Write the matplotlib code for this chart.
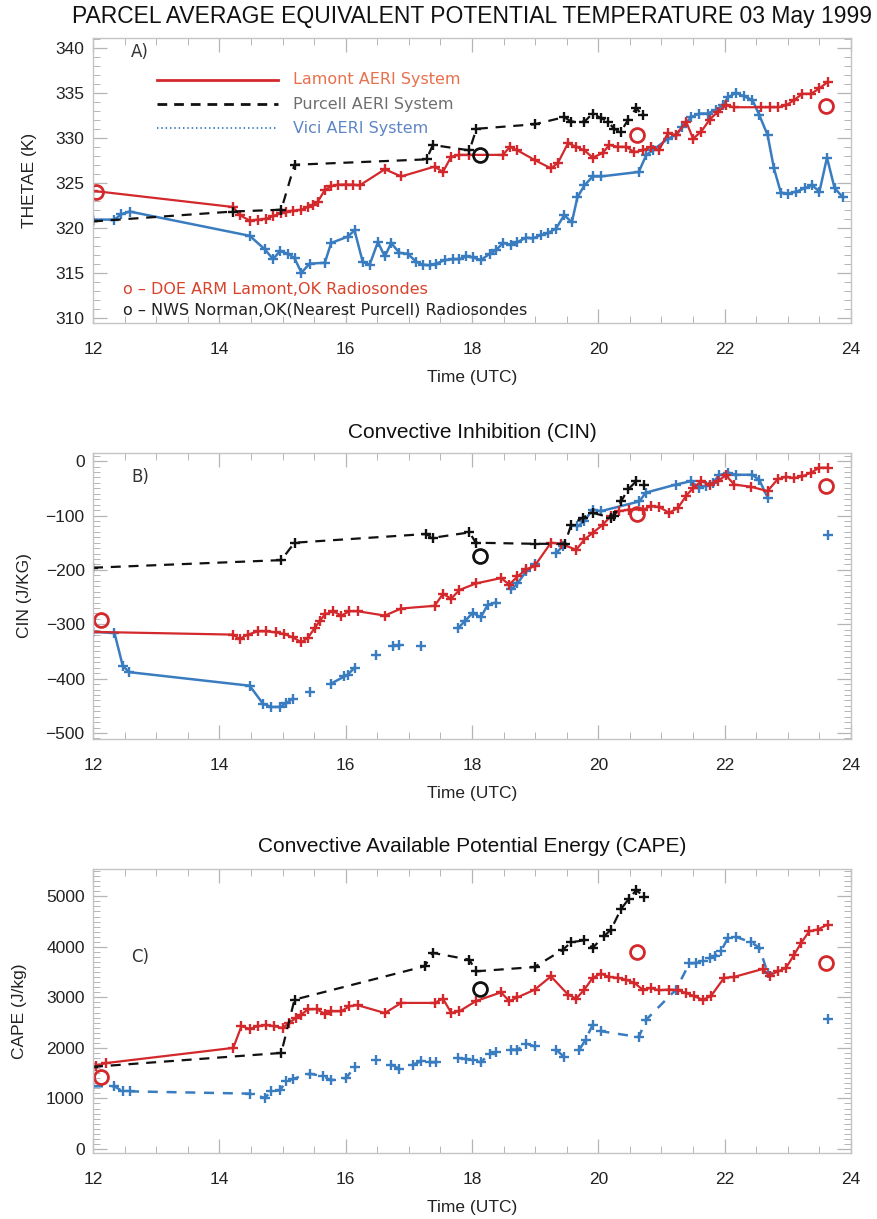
"""Parcel-average theta-e, CIN and CAPE from three AERI sites, 03 May 1999."""

import numpy as np
import matplotlib
matplotlib.use('Agg')
import matplotlib.pyplot as plt
from matplotlib.ticker import MultipleLocator

nan = np.nan

RED = '#d3282c'
BLUE = '#3a7cc0'
BLACK = '#111111'

# ---------------- panel A: THETAE (K) ----------------
lam_t_a = [12.0, 14.22, 14.32, 14.48, 14.61, 14.74, 14.85, 14.98, 15.06, 15.16, 15.3, 15.4,
           15.48, 15.56, 15.67, 15.77, 15.88, 16.01, 16.11, 16.22, 16.62, 16.88, 17.41, 17.54,
           17.67, 17.80, 17.96, 18.49, 18.6, 18.72, 19.0, 19.25, 19.36, 19.52, 19.65, 19.78,
           19.91, 20.07, 20.17, 20.31, 20.44, 20.57, 20.70, 20.83, 20.96, 21.1, 21.23, 21.39,
           21.5, 21.63, 21.76, 21.89, 22.02, 22.15, 22.58, 22.71, 22.84, 22.97, 23.1, 23.23,
           23.37, 23.5, 23.63]
lam_v_a = [324.1, 322.3, 321.4, 320.8, 320.9, 321.0, 321.3, 321.6, 321.8, 321.9, 322.0, 322.3,
           322.5, 322.9, 324.2, 324.6, 324.8, 324.8, 324.8, 324.7, 326.5, 325.7, 326.8, 326.2,
           327.9, 328.1, 328.1, 328.1, 329.0, 328.6, 327.5, 326.6, 327.2, 329.4, 329.0, 328.6,
           327.8, 328.3, 329.2, 329.0, 329.0, 328.4, 328.6, 329.0, 328.6, 330.5, 330.3, 331.8,
           329.9, 330.7, 332.0, 332.9, 333.6, 333.4, 333.4, 333.4, 333.4, 333.6, 334.2, 334.9,
           334.9, 335.5, 336.2]

pur_t_a = [12.0, 14.22, 14.98, 15.19, 17.28, 17.38, 17.96, 18.07, 18.99, 19.46, 19.57, 19.78,
           19.91, 20.04, 20.15, 20.25, 20.36, 20.47, 20.6, 20.7]
pur_v_a = [320.7, 321.8, 322.0, 327.0, 327.6, 329.2, 328.6, 331.0, 331.5, 332.3, 331.8, 331.8,
           332.7, 332.2, 331.8, 331.0, 330.7, 332.0, 333.3, 332.5]

vic_t_a = [12.0, 12.34, 12.45, 12.58, 14.48, 14.72, 14.85, 14.96, 15.09, 15.19, 15.3, 15.43,
           15.67, 15.77, 16.03, 16.14, 16.27, 16.38, 16.51, 16.62, 16.72, 16.85, 16.98, 17.12,
           17.22, 17.33, 17.43, 17.57, 17.70, 17.80, 17.91, 18.01, 18.14, 18.28, 18.38, 18.49,
           18.62, 18.72, 18.86, 18.96, 19.1, 19.2, 19.33, 19.46, 19.58, 19.67, 19.78, 19.91,
           20.04, 20.64, 20.76, 20.86, 21.1, 21.23, 21.33, 21.47, 21.6, 21.73, 21.86, 21.97,
           22.05, 22.18, 22.31, 22.44, 22.55, 22.68, 22.78, 22.89, 23.0, 23.13, 23.27, 23.39,
           23.5, 23.62, 23.74, 23.87]
vic_v_a = [320.9, 320.9, 321.5, 321.8, 319.1, 317.6, 316.5, 317.4, 317.1, 316.6, 315.0, 316.0,
           316.1, 318.3, 319.0, 319.7, 316.2, 315.9, 318.4, 316.8, 318.3, 317.2, 317.1, 316.2,
           315.9, 315.8, 316.0, 316.4, 316.5, 316.5, 316.8, 316.7, 316.4, 317.1, 317.5, 318.3,
           318.1, 318.4, 318.9, 318.8, 319.2, 319.4, 319.9, 321.4, 320.6, 323.4, 324.7, 325.7,
           325.7, 326.2, 328.1, 328.6, 329.9, 330.3, 331.2, 332.3, 332.7, 332.7, 333.1, 333.6,
           334.5, 335.0, 334.6, 334.2, 332.5, 330.3, 326.6, 323.9, 323.8, 324.0, 324.4, 324.7,
           324.0, 327.8, 324.4, 323.4]

arm_t_a = [12.05, 20.62, 23.6]
arm_v_a = [324.0, 330.3, 333.5]
nws_t_a = [18.12]
nws_v_a = [328.1]

# ---------------- panel B: CIN (J/kg) ----------------
lam_t_b = [12.0, 14.22, 14.32, 14.45, 14.61, 14.74, 14.9, 15.03, 15.16, 15.3, 15.4, 15.51,
           15.59, 15.67, 15.8, 15.93, 16.06, 16.19, 16.62, 16.88, 17.41, 17.54, 17.67, 17.8,
           18.06, 18.46, 18.59, 18.72, 18.86, 18.99, 19.25, 19.41, 19.65, 19.78, 19.91, 20.07,
           20.2, 20.33, 20.49, 20.71, 20.83, 20.96, 21.12, 21.26, 21.39, 21.5, 21.63, 21.76,
           21.89, 22.02, 22.15, 22.41, 22.68, 22.84, 22.97, 23.1, 23.23, 23.37, 23.5, 23.63]
lam_v_b = [-314, -319, -327, -319, -313, -313, -315, -318, -324, -333, -325, -307,
           -294, -282, -276, -284, -276, -276, -284, -271, -266, -244, -253, -237,
           -225, -215, -227, -212, -199, -193, -150, -152, -163, -144, -132, -117,
           -101, -92, -89, -89, -83, -84, -95, -86, -64, -49, -37, -43,
           -37, -26, -43, -47, -55, -33, -29, -31, -28, -21, -12, -12]

pur_t_b = [12.0, 14.98, 15.19, 17.27, 17.38, 17.96, 18.06, 18.99, 19.47, 19.57, 19.75, 19.91,
           20.2, 20.25, 20.36, 20.47, 20.6, 20.73]
pur_v_b = [-196, -182, -150, -134, -141, -131, -150, -152, -152, -117, -104, -95,
           -104, -101, -74, -52, -37, -43]

vic_t_b = [12.0, 12.34, 12.47, 12.57, 14.48, 14.69, 14.82, 14.96, 15.06, 15.16, nan, 15.43, nan,
           15.77, 15.98, 16.03, 16.14, nan, 16.48, nan, 16.75, 16.85, nan, 17.2, nan,
           17.78, 17.89, 18.01, 18.14, 18.25, 18.38, nan, 18.62, 18.72, 18.86, 18.99, nan,
           19.33, 19.44, nan, 19.67, 19.78, 19.91, 20.04, 20.65, 20.75, 21.23, 21.46, 21.6,
           21.7, 21.81, 21.91, 22.05, 22.18, 22.44, 22.55, 22.68, nan, 23.63]
vic_v_b = [-314, -316, -376, -388, -413, -446, -452, -452, -445, -437, nan, -425, nan,
           -409, -396, -393, -380, nan, -356, nan, -340, -339, nan, -340, nan,
           -307, -294, -279, -287, -264, -260, nan, -236, -225, -202, -190, nan,
           -169, -156, nan, -120, -110, -89, -92, -74, -58, -43, -37, -49,
           -45, -40, -26, -21, -25, -25, -35, -67, nan, -135]

arm_t_b = [12.13, 20.62, 23.6]
arm_v_b = [-293, -98, -45]
nws_t_b = [18.12]
nws_v_b = [-175]

# ---------------- panel C: CAPE (J/kg) ----------------
lam_t_c = [12.05, 12.21, 14.22, 14.35, 14.48, 14.61, 14.74, 14.87, 15.0, 15.1, 15.21, 15.3,
           15.4, 15.54, 15.67, 15.77, 15.93, 16.06, 16.19, 16.62, 16.88, 17.41, 17.54, 17.67,
           17.8, 18.06, 18.46, 18.59, 18.72, 18.99, 19.25, 19.52, 19.65, 19.78, 19.91, 20.04,
           20.17, 20.31, 20.44, 20.57, 20.7, 20.83, 20.96, 21.12, 21.26, 21.39, 21.52, 21.65,
           21.78, 21.99, 22.15, 22.6, 22.71, 22.84, 22.97, 23.1, 23.21, 23.34, 23.47, 23.63]
lam_v_c = [1650, 1700, 2000, 2430, 2375, 2430, 2450, 2430, 2395, 2490, 2590, 2660,
           2760, 2770, 2670, 2725, 2725, 2825, 2845, 2690, 2890, 2890, 2975, 2695,
           2725, 2925, 3100, 2925, 3000, 3150, 3415, 3055, 2975, 3155, 3385, 3470,
           3405, 3385, 3350, 3285, 3155, 3185, 3140, 3155, 3140, 3085, 3020, 2955,
           3020, 3385, 3405, 3560, 3430, 3515, 3580, 3845, 4075, 4310, 4340, 4440]

pur_t_c = [12.0, 14.98, 15.19, 17.25, 17.38, 17.96, 18.06, 18.99, 19.44, 19.57, 19.78, 19.91,
           20.09, 20.2, 20.36, 20.48, 20.6, 20.73]
pur_v_c = [1625, 1900, 2955, 3615, 3880, 3745, 3515, 3600, 3945, 4090, 4130, 3980,
           4210, 4340, 4750, 4945, 5120, 4990]

vic_t_c = [12.0, 12.34, 12.47, 12.58, 14.48, 14.72, 14.82, 14.96, 15.06, 15.16, 15.43, 15.64,
           15.77, 16.01, 16.14, nan, 16.48, nan, 16.72, 16.85, nan, 17.06, 17.2, 17.33, 17.43, nan,
           17.78, 17.91, 18.01, 18.14, 18.28, 18.38, nan, 18.62, 18.72, 18.86, 18.99, nan,
           19.33, 19.46, nan, 19.7, 19.8, 19.91, 20.04, 20.64, 20.76, 21.23, 21.44, 21.55,
           21.65, 21.76, 21.84, 21.94, 22.05, 22.18, 22.42, 22.55, 22.68, nan, 23.63]
vic_v_c = [1240, 1240, 1140, 1140, 1095, 1010, 1140, 1160, 1340, 1385, 1490, 1440,
           1360, 1405, 1625, nan, 1770, nan, 1670, 1585, nan, 1670, 1735, 1715, 1715, nan,
           1800, 1780, 1755, 1715, 1885, 1915, nan, 1965, 1965, 2085, 2030, nan,
           1965, 1820, nan, 1965, 2165, 2460, 2330, 2215, 2560, 3155, 3670, 3680,
           3715, 3780, 3815, 3910, 4175, 4195, 4090, 3980, 3485, nan, 2575]

arm_t_c = [12.13, 20.62, 23.6]
arm_v_c = [1420, 3900, 3680]
nws_t_c = [18.12]
nws_v_c = [3165]

LEGEND_NAMES = ['Lamont AERI System', 'Purcell AERI System', 'Vici AERI System']
SONDE_NOTES = ['o \u2013 DOE ARM Lamont,OK Radiosondes',
               'o \u2013 NWS Norman,OK(Nearest Purcell) Radiosondes']

plt.rcParams['font.family'] = ['Liberation Sans', 'DejaVu Sans']

W, H = 878, 1219
fig = plt.figure(figsize=(W / 100, H / 100), dpi=100)


def px_axes(left, top, right, bottom):
    return fig.add_axes([left / W, 1 - bottom / H, (right - left) / W, (bottom - top) / H])


def style(ax, ylim, ymaj, ymin, ylabel, label_x, tag, tag_y):
    ax.set_xlim(12, 24)
    ax.set_ylim(*ylim)
    ax.xaxis.set_major_locator(MultipleLocator(2))
    ax.xaxis.set_minor_locator(MultipleLocator(0.5))
    ax.yaxis.set_major_locator(MultipleLocator(ymaj))
    ax.yaxis.set_minor_locator(MultipleLocator(ymin))
    ax.tick_params(which='both', direction='in', top=True, right=True, color='#b5b5b5',
                   labelsize=12.5, labelcolor='#222222')
    ax.tick_params(which='major', length=10, width=0.9)
    ax.tick_params(which='minor', length=5, width=0.7)
    ax.tick_params(axis='x', pad=14)
    ax.tick_params(axis='y', pad=6)
    for s in ax.spines.values():
        s.set_color('#c4c4c4')
        s.set_linewidth(1.0)
    ax.set_xlabel('Time (UTC)', fontsize=12.5, color='#222222')
    ax.xaxis.set_label_coords(0.5, -0.165)
    ax.set_ylabel(ylabel, fontsize=12.5, color='#222222')
    ax.yaxis.set_label_coords(label_x, 0.5)
    ax.text(0.05, tag_y, tag, transform=ax.transAxes, fontsize=12, color='#333333',
            family='DejaVu Sans', va='center', ha='left')


def draw(ax, lam, pur, vic, arm, nws, vic_ls='-'):
    mk = dict(marker='+', ms=7.5, mew=1.7)
    ax.plot(vic[0], vic[1], color=BLUE, lw=1.8, ls=vic_ls, **mk)
    ax.plot(lam[0], lam[1], color=RED, lw=1.6, **mk)
    ax.plot(pur[0], pur[1], color=BLACK, lw=1.6, dashes=(4.5, 3.5), **mk)
    ax.plot(arm[0], arm[1], ls='none', marker='o', ms=10, mfc='none', mec=RED, mew=2)
    ax.plot(nws[0], nws[1], ls='none', marker='o', ms=10, mfc='none', mec=BLACK, mew=2)


# panel A
ax = px_axes(93, 38, 851, 323)
draw(ax, (lam_t_a, lam_v_a), (pur_t_a, pur_v_a), (vic_t_a, vic_v_a),
     (arm_t_a, arm_v_a), (nws_t_a, nws_v_a))
style(ax, (309.4, 341.1), 5, 1, 'THETAE (K)', -0.074, 'A)', 0.95)

# hand-drawn legend inside panel A
ys = [0.853, 0.768, 0.684]
ax.plot([0.084, 0.244], [ys[0]] * 2, transform=ax.transAxes, color=RED, lw=2)
ax.plot([0.084, 0.244], [ys[1]] * 2, transform=ax.transAxes, color=BLACK, lw=2,
        dashes=(3.5, 2.5))
ax.plot([0.084, 0.244], [ys[2]] * 2, transform=ax.transAxes, color=BLUE, lw=1.3,
        dashes=(0.8, 1.6))
for y, name, c in zip(ys, LEGEND_NAMES, ['#e8704c', '#6f6f6f', '#5e86c6']):
    ax.text(0.264, y, name, transform=ax.transAxes, color=c, fontsize=11.5,
            family='DejaVu Sans', va='center', ha='left')
for y, note, c in zip([0.116, 0.046], SONDE_NOTES, ['#d9432c', '#222222']):
    ax.text(0.040, y, note, transform=ax.transAxes, color=c, fontsize=11.5,
            family='DejaVu Sans', va='center', ha='left')

# panel B
ax = px_axes(93, 453, 851, 739)
draw(ax, (lam_t_b, lam_v_b), (pur_t_b, pur_v_b), (vic_t_b, vic_v_b),
     (arm_t_b, arm_v_b), (nws_t_b, nws_v_b))
style(ax, (-511, 15), 100, 10, 'CIN (J/KG)', -0.080, 'B)', 0.916)

# panel C
ax = px_axes(93, 869, 851, 1153)
draw(ax, (lam_t_c, lam_v_c), (pur_t_c, pur_v_c), (vic_t_c, vic_v_c),
     (arm_t_c, arm_v_c), (nws_t_c, nws_v_c), vic_ls=(0, (4, 3.5)))
style(ax, (-80, 5540), 1000, 100, 'CAPE (J/kg)', -0.087, 'C)', 0.691)

cx = 472 / W
fig.text(cx, 1 - 17 / H, 'PARCEL AVERAGE EQUIVALENT POTENTIAL TEMPERATURE 03 May 1999',
         ha='center', va='center', fontsize=16.5, color='#111111')
fig.text(cx, 1 - 433 / H, 'Convective Inhibition (CIN)', ha='center', va='center',
         fontsize=15, color='#111111')
fig.text(cx, 1 - 847 / H, 'Convective Available Potential Energy (CAPE)', ha='center',
         va='center', fontsize=15, color='#111111')

fig.savefig('out.png', dpi=100)
